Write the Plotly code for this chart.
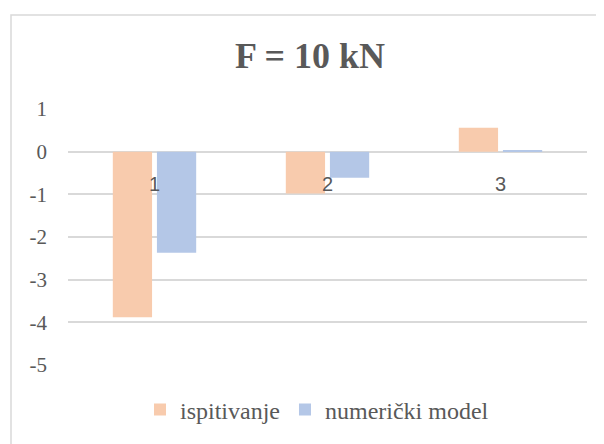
import plotly.graph_objects as go

categories = ["1", "2", "3"]
ispitivanje = [-3.88, -0.98, 0.56]
numericki = [-2.37, -0.61, 0.03]
y_ticks = [1, 0, -1, -2, -3, -4, -5]
y_tick_text = ["1", "0", "-1", "-2", "-3", "-4", "-5"]

TXT = "#595959"
GRID = "#D9D9D9"

fig = go.Figure()
fig.add_trace(go.Bar(x=categories, y=ispitivanje, name="ispitivanje",
                     marker=dict(color="#F8CBAD", line=dict(width=0))))
fig.add_trace(go.Bar(x=categories, y=numericki, name="numerički model",
                     marker=dict(color="#B4C7E7", line=dict(width=0))))

# page body has an 8px default margin, so the figure is 8px smaller
OFF = 8
W, H = 604 - OFF, 444 - OFF
L, T = 68 - OFF, 109 - OFF
R = W - (587 - OFF)
B = H - (365 - OFF)
pw, ph = W - L - R, H - T - B

def px_y(y):  # screen y -> paper y
    return (T + ph - (y - OFF)) / ph

def px_x(x):
    return ((x - OFF) - L) / pw

fig.update_layout(
    width=W, height=H,
    margin=dict(l=L, r=R, t=T, b=B, pad=0),
    paper_bgcolor="white", plot_bgcolor="white",
    barmode="group", bargap=0.49, bargroupgap=0.11,
    title=dict(text="<b>F = 10 kN</b>", x=(310 - OFF) / W, xanchor="center",
               y=1 - (55 - OFF) / H, yanchor="middle",
               font=dict(family="Liberation Serif", size=36, color=TXT)),
    font=dict(family="Liberation Serif", color=TXT),
    showlegend=True,
    legend=dict(orientation="h", x=px_x(317), xanchor="center",
                y=px_y(410), yanchor="middle",
                font=dict(family="Liberation Serif", size=24, color=TXT),
                itemwidth=30, traceorder="normal"),
    xaxis=dict(anchor="free", position=5 / 6, showgrid=False, showline=False,
               ticks="", ticklabelstandoff=18,
               tickfont=dict(family="Liberation Sans", size=20, color=TXT)),
    yaxis=dict(range=[-5, 1], tickvals=y_ticks, ticktext=y_tick_text,
               showgrid=True, gridcolor=GRID,
               gridwidth=1.5, zeroline=True, zerolinecolor=GRID, zerolinewidth=1.5,
               showline=False, ticks="", ticklabelstandoff=20,
               tickfont=dict(family="Liberation Serif", size=21, color=TXT)),
    shapes=[dict(type="rect", xref="paper", yref="paper",
                 x0=px_x(11), x1=px_x(620),
                 y0=px_y(470), y1=px_y(15),
                 line=dict(color="#D9D9D9", width=1.5), fillcolor="rgba(0,0,0,0)",
                 layer="below")],
)

fig.write_html("out.html")
